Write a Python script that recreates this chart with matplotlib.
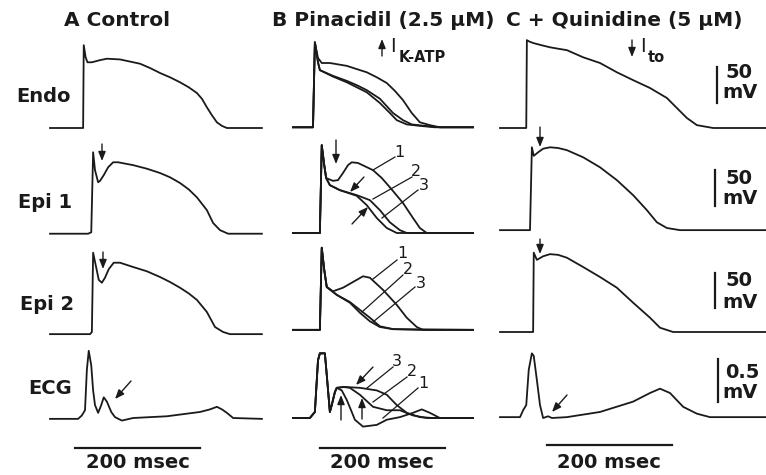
import matplotlib.pyplot as plt

W, H = 766, 475
MS_PX = 1.6       # ms per pixel
MV_PX = 1.4       # mV per pixel, action potentials
ECG_PX = 0.0116   # mV per pixel, ECG

# ---- A Control ----
a_endo_t = [0, 53, 54, 57, 60, 67, 80, 91, 112, 128, 144, 160, 176, 192, 208, 222, 235, 243, 251, 259, 267, 275, 283, 339]
a_endo_v = [-85, -85, 31, 14, 7, 7, 10, 12, 11, 8, 5, -1, -8, -14, -21, -28, -36, -44, -56, -67, -77, -82, -85, -85]

a_epi1_t = [0, 61, 66, 69, 72, 77, 80, 86, 93, 101, 109, 133, 155, 176, 192, 208, 222, 235, 251, 261, 272, 285, 339]
a_epi1_v = [-86, -86, -84, 28, 3, -14, -12, -4, 7, 14, 14, 10, 5, -1, -7, -15, -24, -35, -53, -71, -81, -86, -86]

a_epi2_t = [0, 64, 67, 69, 74, 78, 83, 88, 94, 102, 112, 133, 155, 176, 192, 208, 222, 235, 251, 264, 277, 288, 339]
a_epi2_v = [-88, -88, -85, 26, 5, -12, -16, -9, 3, 12, 12, 6, 0, -8, -15, -23, -31, -40, -57, -78, -85, -88, -88]

a_ecg_t = [0, 45, 51, 56, 59, 62, 66, 69, 72, 77, 82, 86, 91, 98, 104, 115, 133, 187, 240, 256, 267, 275, 283, 293, 339]
a_ecg_v = [-0.01, -0.01, 0.03, 0.09, 0.56, 0.78, 0.61, 0.32, 0.15, 0.06, 0.15, 0.24, 0.19, 0.07, 0.01, -0.03,
           0.0, 0.02, 0.07, 0.10, 0.13, 0.10, 0.06, 0.0, -0.01]

# ---- B Pinacidil (traces 1, 2, 3) ----
b_endo_t1 = [0, 32, 35, 40, 46, 59, 86, 118, 134, 150, 163, 176, 190, 203, 219, 235, 288]
b_endo_v1 = [-84, -84, 35, 13, 6, 6, 2, -7, -14, -22, -33, -46, -64, -77, -81, -84, -84]
b_endo_t2 = [0, 32, 35, 40, 43, 64, 86, 102, 118, 139, 155, 166, 182, 203, 227, 288]
b_endo_v2 = [-84, -84, 35, 7, -4, -13, -21, -28, -35, -50, -64, -74, -80, -82, -84, -84]
b_endo_t3 = [0, 32, 35, 40, 43, 64, 86, 102, 118, 139, 160, 176, 190, 211, 235, 288]
b_endo_v3 = [-84, -84, 35, 7, -4, -12, -19, -25, -32, -44, -64, -74, -80, -82, -84, -84]

b_epi1_t1 = [0, 43, 46, 50, 53, 64, 72, 80, 88, 94, 104, 128, 142, 155, 176, 192, 203, 214, 288]
b_epi1_v1 = [-85, -85, 38, 10, -8, -12, -11, -1, 10, 14, 13, 3, -8, -21, -43, -64, -78, -85, -85]
b_epi1_t2 = [0, 43, 46, 50, 53, 59, 75, 102, 123, 139, 155, 171, 182, 288]
b_epi1_v2 = [-85, -85, 38, 10, -8, -18, -25, -32, -39, -53, -70, -81, -85, -85]
b_epi1_t3 = [0, 43, 46, 50, 53, 59, 75, 102, 118, 134, 150, 166, 288]
b_epi1_v3 = [-85, -85, 38, 10, -8, -18, -25, -33, -46, -64, -78, -85, -85]

b_epi2_t1 = [0, 43, 46, 50, 54, 64, 80, 96, 112, 123, 144, 166, 182, 198, 208, 288]
b_epi2_v1 = [-82, -82, 33, 2, -22, -28, -23, -15, -7, -9, -26, -47, -65, -78, -82, -82]
b_epi2_t2 = [0, 43, 46, 50, 54, 70, 91, 107, 123, 139, 160, 203, 288]
b_epi2_v2 = [-82, -82, 33, 2, -22, -33, -43, -54, -65, -77, -81, -82, -82]
b_epi2_t3 = [0, 43, 46, 50, 54, 70, 91, 107, 123, 139, 160, 288]
b_epi2_v3 = [-82, -82, 33, 2, -22, -33, -44, -58, -70, -78, -81, -82]

b_ecg_qrs_t = [0, 27, 35, 40, 43, 51, 54, 59, 62, 67, 70]
b_ecg_qrs_v = [0, 0, 0.07, 0.67, 0.75, 0.75, 0.50, 0.07, 0.15, 0.30, 0.35]
b_ecg_t1 = [78, 86, 94, 99, 112, 134, 150, 171, 192, 206, 219, 235, 288]
b_ecg_v1 = [0.32, 0.21, 0.07, -0.02, -0.10, -0.08, -0.02, 0.01, 0.06, 0.10, 0.06, 0, 0]
b_ecg_t2 = [80, 91, 107, 128, 150, 171, 192, 214, 288]
b_ecg_v2 = [0.36, 0.35, 0.27, 0.13, 0.09, 0.09, 0.03, 0, 0]
b_ecg_t3 = [83, 107, 134, 150, 166, 182, 203, 224, 288]
b_ecg_v3 = [0.36, 0.35, 0.32, 0.27, 0.15, 0.06, 0.01, 0, 0]

# ---- C + Quinidine ----
c_endo_t = [0, 42, 43, 47, 53, 66, 80, 93, 107, 133, 160, 187, 213, 240, 267, 283, 299, 315, 341, 426]
c_endo_v = [-85, -85, 38, 36, 34, 31, 28, 26, 24, 14, 6, -7, -18, -29, -43, -57, -71, -81, -85, -85]

c_epi1_t = [0, 48, 51, 54, 61, 69, 80, 93, 107, 133, 160, 187, 213, 235, 251, 267, 288, 426]
c_epi1_v = [-81, -81, 35, 23, 28, 33, 35, 34, 31, 21, 7, -11, -32, -53, -70, -78, -81, -81]

c_epi2_t = [0, 53, 54, 59, 69, 80, 93, 107, 133, 160, 187, 213, 240, 256, 277, 426]
c_epi2_v = [-85, -85, 26, 16, 21, 24, 23, 19, 6, -8, -23, -44, -65, -79, -85, -85]

c_ecg_t = [0, 32, 37, 42, 46, 51, 54, 59, 64, 69, 77, 83, 107, 160, 213, 240, 256, 272, 293, 315, 336, 426]
c_ecg_v = [0.01, 0.01, 0.09, 0.15, 0.56, 0.75, 0.72, 0.44, 0.15, 0, 0.02, 0, 0.01, 0.07, 0.19, 0.29, 0.34,
           0.29, 0.13, 0.05, 0.01, 0.01]

titles = ['A Control', 'B Pinacidil (2.5 \u00b5M)', 'C + Quinidine (5 \u00b5M)']
row_labels = ['Endo', 'Epi 1', 'Epi 2', 'ECG']

INK = '#1a1a1a'
fig = plt.figure(figsize=(W / 100, H / 100), dpi=100)
fig.patch.set_facecolor('white')

# column: (left px, width px), row: (top px, height px, rest px, rest value, scale)
cols = [(50, 215), (293, 185), (500, 266)]
rows = [(30, 110, 128, -85, MV_PX), (135, 110, 233, -85, MV_PX),
        (235, 110, 332, -85, MV_PX), (340, 125, 418, 0, ECG_PX)]


def cell(ci, ri):
    left, width = cols[ci]
    top, height, rest_y, rest_v, scale = rows[ri]
    ax = fig.add_axes([left / W, 1 - (top + height) / H, width / W, height / H])
    ax.set_xlim(0, width * MS_PX)
    ax.set_ylim(rest_v - (top + height - rest_y) * scale, rest_v + (rest_y - top) * scale)
    ax.axis('off')
    return ax


def trace(ax, t, v):
    ax.plot(t, v, color=INK, lw=1.3, clip_on=False, solid_joinstyle='round')


def bar(ax, x, y):
    ax.plot(x, y, color=INK, lw=1.6, clip_on=False)


def txt(x, y, s, size=14, weight='bold'):
    fig.text(x / W, 1 - y / H, s, ha='center', va='center', fontsize=size,
             fontweight=weight, color=INK)


def arrow(x0, y0, x1, y1):
    fig.add_artist(plt.matplotlib.patches.FancyArrowPatch(
        (x0 / W, 1 - y0 / H), (x1 / W, 1 - y1 / H), transform=fig.transFigure,
        arrowstyle='-|>,head_length=0.55,head_width=0.22', mutation_scale=10,
        lw=1.0, color=INK, shrinkA=0, shrinkB=0))


def line(x0, y0, x1, y1):
    fig.add_artist(plt.Line2D([x0 / W, x1 / W], [1 - y0 / H, 1 - y1 / H],
                              transform=fig.transFigure, lw=0.9, color=INK))


# column A
trace(cell(0, 0), a_endo_t, a_endo_v)
trace(cell(0, 1), a_epi1_t, a_epi1_v)
trace(cell(0, 2), a_epi2_t, a_epi2_v)
ax = cell(0, 3)
trace(ax, a_ecg_t, a_ecg_v)
bar(ax, [40, 240], [-0.35, -0.35])

# column B
ax = cell(1, 0)
for t, v in [(b_endo_t1, b_endo_v1), (b_endo_t2, b_endo_v2), (b_endo_t3, b_endo_v3)]:
    trace(ax, t, v)
ax = cell(1, 1)
for t, v in [(b_epi1_t1, b_epi1_v1), (b_epi1_t2, b_epi1_v2), (b_epi1_t3, b_epi1_v3)]:
    trace(ax, t, v)
ax = cell(1, 2)
for t, v in [(b_epi2_t1, b_epi2_v1), (b_epi2_t2, b_epi2_v2), (b_epi2_t3, b_epi2_v3)]:
    trace(ax, t, v)
ax = cell(1, 3)
for t, v in [(b_ecg_t1, b_ecg_v1), (b_ecg_t2, b_ecg_v2), (b_ecg_t3, b_ecg_v3)]:
    trace(ax, b_ecg_qrs_t + t, b_ecg_qrs_v + v)
bar(ax, [43, 243], [-0.35, -0.35])

# column C
ax = cell(2, 0)
trace(ax, c_endo_t, c_endo_v)
bar(ax, [347, 347], [0, -50])
ax = cell(2, 1)
trace(ax, c_epi1_t, c_epi1_v)
bar(ax, [344, 344], [3, -47])
ax = cell(2, 2)
trace(ax, c_epi2_t, c_epi2_v)
bar(ax, [344, 344], [-2, -52])
ax = cell(2, 3)
trace(ax, c_ecg_t, c_ecg_v)
bar(ax, [349, 349], [0.69, 0.19])
bar(ax, [75, 275], [-0.31, -0.31])

# titles and row labels
txt(117, 20, titles[0], 14.5)
txt(383, 20, titles[1], 14.5)
txt(624, 20, titles[2], 14.5)
for lab, x, y in zip(row_labels, [43, 45, 47, 50], [97, 202, 305, 388]):
    txt(x, y, lab, 14)

# scale bar labels
for x in [138, 382, 609]:
    txt(x, 463, '200 msec', 14)
for y50, ymv in [(72, 93), (178, 198), (280, 302)]:
    txt(739, y50, '50', 14)
    txt(740, ymv, 'mV', 14)
txt(742, 372, '0.5', 14)
txt(740, 393, 'mV', 14)

# current labels
arrow(382, 56, 382, 39)
txt(393, 47, 'I', 14, 'normal')
txt(422, 57, 'K-ATP', 10.5)
arrow(632, 40, 632, 57)
txt(643, 47, 'I', 14, 'normal')
txt(656, 57, 'to', 10.5)

# arrows on traces
arrow(102, 144, 102, 161)
arrow(103, 252, 103, 269)
arrow(336, 140, 336, 164)
arrow(364, 177, 350, 192)
arrow(352, 224, 368, 207)
arrow(373, 367, 356, 385)
arrow(341, 420, 341, 395)
arrow(362, 419, 362, 398)
arrow(131, 381, 115, 399)
arrow(540, 127, 540, 147)
arrow(540, 239, 540, 254)
arrow(567, 395, 552, 412)

# numbered pointer lines
for x0, y0, x1, y1, lx, ly, s in [
        (373, 170, 395, 157, 399, 152, '1'), (373, 199, 412, 177, 416, 171, '2'),
        (382, 218, 418, 190, 424, 185, '3'), (373, 279, 397, 260, 402, 253, '1'),
        (362, 312, 403, 275, 408, 270, '2'), (373, 322, 415, 287, 421, 284, '3'),
        (367, 388, 393, 367, 397, 362, '3'), (373, 402, 407, 377, 412, 372, '2'),
        (383, 418, 418, 388, 423, 384, '1')]:
    line(x0, y0, x1, y1)
    txt(lx, ly, s, 11.5, 'normal')

fig.savefig('out.png', dpi=100, facecolor='white')
